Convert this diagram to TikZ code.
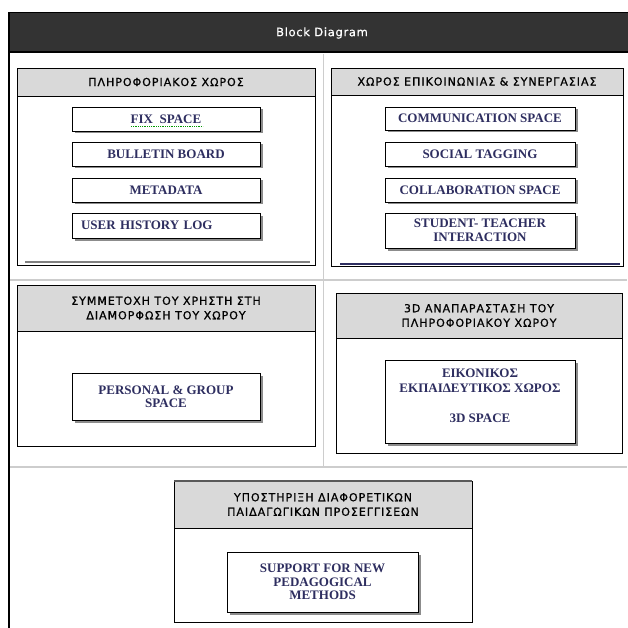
\documentclass[tikz,border=0pt]{standalone}
\usepackage{fontspec}
\setmainfont{Liberation Serif}
\newfontfamily\hdrfont[LetterSpace=9,FakeBold=0.8]{DejaVu Sans}
\newfontfamily\ttlfont[LetterSpace=6,FakeBold=0.6]{DejaVu Sans}
\usetikzlibrary{shadows}
\definecolor{navy}{RGB}{46,46,96}
\definecolor{hdrgray}{RGB}{217,217,217}
\definecolor{band}{RGB}{51,51,51}
\definecolor{sepgray}{RGB}{205,205,205}
\begin{document}
\begin{tikzpicture}[x=1pt,y=-1pt,
  panel/.style={draw=black, line width=0.8pt, fill=white},
  phead/.style={draw=black, line width=0.8pt, fill=hdrgray},
  htext/.style={font=\hdrfont\fontsize{11}{14.5}\selectfont, align=center, inner sep=0pt},
  itembox/.style={draw=black, line width=0.8pt, fill=white,
    drop shadow={shadow xshift=2.5pt, shadow yshift=-2.5pt, fill=black, opacity=0.45},
    font=\bfseries\fontsize{13}{13.5}\selectfont, text=navy, align=center, inner sep=0pt},
  itext/.style={font=\bfseries\fontsize{13}{15}\selectfont, text=navy, align=center, inner sep=0pt},
  seprule/.style={draw=sepgray, line width=1.5pt}
]
\useasboundingbox (0,0) rectangle (627,628);
% title band
\filldraw[fill=band, draw=black, line width=1pt] (8,13) rectangle (628,53);
\draw[black, line width=2pt] (8,52.5) -- (628,52.5);
\node[font=\ttlfont\fontsize{11.5}{14}\selectfont, text=white, inner sep=0pt] (title) at (322,33) {Block Diagram};
% rules
\draw[black, line width=2pt] (9,13) -- (9,628);
\draw[draw=sepgray, line width=0.8pt] (323,54) -- (323,467);
\draw[seprule] (10,280) -- (627,280);
\draw[seprule] (10,467) -- (627,467);

% panel A
\draw[panel] (17,68) rectangle (315,265);
\draw[phead] (17,68) rectangle (315,96);
\draw[gray, line width=1.6pt] (25,262) -- (310,262);
\node[htext] (hA) at (166,82) {ΠΛΗΡΟΦΟΡΙΑΚΟΣ ΧΩΡΟΣ};
\node[itembox, minimum width=188pt, minimum height=24pt] (fix) at (166,119) {FIX\ \ SPACE};
\draw[green!60!black, densely dotted, line width=0.8pt] ([xshift=-35pt,yshift=-7pt]fix.center) -- ([xshift=37pt,yshift=-7pt]fix.center);
\node[itembox, minimum width=188pt, minimum height=24pt] (bull) at (166,154) {BULLETIN BOARD};
\node[itembox, minimum width=188pt, minimum height=24pt] (meta) at (166,190) {METADATA};
\node[itembox, minimum height=25pt, text width=170pt, inner xsep=9pt, align=left] (user) at (166,225.5) {USER HISTORY LOG};

% panel B
\draw[panel] (331,68) rectangle (623,266);
\draw[phead] (331,68) rectangle (623,95);
\draw[navy, line width=1.4pt] (340,264) -- (620,264);
\node[htext] (hB) at (477,81.5) {ΧΩΡΟΣ ΕΠΙΚΟΙΝΩΝΙΑΣ \& ΣΥΝΕΡΓΑΣΙΑΣ};
\node[itembox, minimum width=190pt, minimum height=23pt] (comm) at (480,118.5) {COMMUNICATION SPACE};
\node[itembox, minimum width=190pt, minimum height=24pt] (soc) at (480,154) {SOCIAL TAGGING};
\node[itembox, minimum width=190pt, minimum height=24pt] (coll) at (480,190) {COLLABORATION SPACE};
\node[itembox, minimum width=190pt, minimum height=35pt] (stud) at (480,230.5) {STUDENT- TEACHER\\INTERACTION};

% panel C
\draw[panel] (17,285) rectangle (315,446);
\draw[phead] (17,285) rectangle (315,331);
\node[htext] (hC) at (166,308) {ΣΥΜΜΕΤΟΧΗ ΤΟΥ ΧΡΗΣΤΗ ΣΤΗ\\ΔΙΑΜΟΡΦΩΣΗ ΤΟΥ ΧΩΡΟΥ};
\node[itembox, minimum width=188pt, minimum height=47pt] (pers) at (166,396.5) {PERSONAL \& GROUP\\SPACE};

% panel D
\draw[panel] (336,293) rectangle (622,453);
\draw[phead] (336,293) rectangle (622,338);
\node[htext] (hD) at (479,315.5) {3D ΑΝΑΠΑΡΑΣΤΑΣΗ ΤΟΥ\\ΠΛΗΡΟΦΟΡΙΑΚΟΥ ΧΩΡΟΥ};
\node[itembox, minimum width=190pt, minimum height=83pt] (vbox) at (480,401.5) {};
\node[itext] (vtext) at (480,396) {ΕΙΚΟΝΙΚΟΣ\\ΕΚΠΑΙΔΕΥΤΙΚΟΣ ΧΩΡΟΣ\\[15pt]3D SPACE};

% panel E
\draw[panel] (174,481) rectangle (472,622);
\draw[phead] (174,481) rectangle (472,528);
\draw[black!65, line width=1.4pt] (174,481) -- (472,481);
\node[htext] (hE) at (323,504.5) {ΥΠΟΣΤΗΡΙΞΗ ΔΙΑΦΟΡΕΤΙΚΩΝ\\ΠΑΙΔΑΓΩΓΙΚΩΝ ΠΡΟΣΕΓΓΙΣΕΩΝ};
\node[itembox, minimum width=191pt, minimum height=60pt] (supp) at (322.5,582) {SUPPORT FOR NEW\\PEDAGOGICAL\\METHODS};
\end{tikzpicture}
\end{document}
